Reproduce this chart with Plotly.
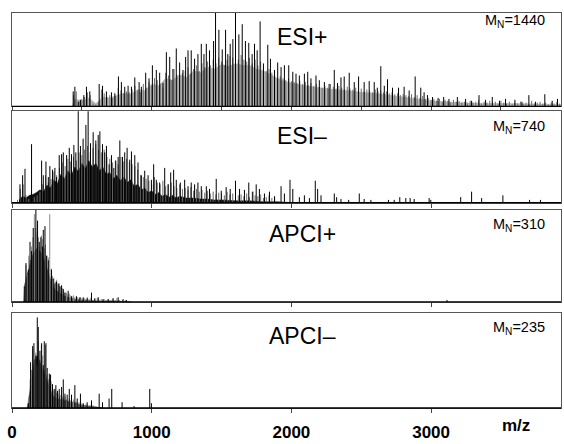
import plotly.graph_objects as go

# ---------------- data (m/z, relative intensity in % of panel height) ----------------
X_MAX = 3930

# ESI+ : major peaks (black)
esip_mz = [438, 450, 474, 490, 514, 533, 557, 624, 648, 676, 712, 736, 762, 783, 807, 831, 855, 879,
           910, 926, 957, 981, 1005, 1033, 1057, 1081, 1105, 1129, 1152, 1176, 1200, 1224, 1243, 1260,
           1283, 1307, 1331, 1355, 1374, 1391, 1414, 1443, 1457, 1481, 1505, 1529, 1545, 1562, 1581,
           1600, 1624, 1648, 1671, 1695, 1719, 1736, 1755, 1776, 1800, 1831, 1850, 1879, 1902, 1926,
           1950, 1981, 2010, 2033, 2057, 2093, 2117, 2140, 2176, 2200, 2236, 2270, 2307, 2330, 2355,
           2378, 2414, 2450, 2481, 2521, 2557, 2593, 2615, 2640, 2665, 2688, 2724, 2767, 2807, 2843,
           2886, 2926, 2950, 2974, 3010, 3050, 3090, 3128, 3188, 3247, 3290, 3343, 3390, 3438, 3490,
           3533, 3600, 3650, 3700, 3747, 3814, 3867, 3905]
esip_int = [16, 21, 5, 7, 12, 21, 16, 24, 22, 16, 15, 14, 32, 26, 21, 22, 21, 31,
            26, 21, 36, 30, 44, 39, 36, 25, 58, 53, 40, 62, 47, 39, 53, 60,
            60, 51, 56, 67, 56, 67, 60, 70, 105, 82, 61, 82, 56, 67, 72,
            105, 77, 88, 70, 68, 56, 67, 60, 91, 46, 66, 51, 39, 47, 42,
            44, 44, 37, 35, 33, 35, 37, 30, 33, 28, 26, 24, 39, 25, 31,
            32, 36, 26, 32, 26, 27, 26, 20, 43, 22, 29, 20, 20, 21, 17,
            32, 20, 15, 12, 10, 9, 10, 8, 10, 8, 6, 12, 7, 10, 6,
            8, 7, 5, 12, 5, 13, 6, 8]
# ESI+ : minor peaks (grey), one every 20 m/z from 440
esip_minor_start, esip_minor_step = 440, 20
esip_minor = [12, 16, 5, 8, 10, 15, 12, 3, 2, 4,
              18, 14, 10, 12, 9, 11, 20, 17, 14, 16,
              15, 18, 22, 17, 15, 24, 20, 26, 22, 30,
              28, 24, 20, 36, 33, 28, 40, 34, 30, 36,
              38, 42, 35, 40, 44, 38, 46, 42, 48, 44,
              50, 46, 52, 48, 44, 50, 54, 52, 56, 50,
              55, 50, 48, 52, 46, 50, 44, 48, 42, 38,
              40, 36, 34, 30, 32, 30, 28, 30, 27, 26,
              25, 27, 24, 26, 23, 25, 22, 24, 21, 20,
              22, 20, 24, 21, 19, 22, 20, 18, 21, 19,
              18, 20, 17, 19, 16, 18, 17, 15, 18, 16,
              17, 15, 16, 14, 15, 13, 14, 12, 13, 12,
              11, 13, 10, 12, 9, 11, 8, 9, 7, 8,
              6, 8, 5, 7, 6, 4, 7, 5, 6, 4,
              5, 3, 6, 4, 5, 7, 3, 5, 4, 6,
              4, 5, 3, 6, 4, 3, 5, 2, 4, 3,
              5, 3, 4, 2, 6, 3, 4, 5, 3, 4,
              2, 4, 3, 5, 3]
# ESI+ : dense unresolved background (grey hatch)
esip_fill_mz = [430, 450, 500, 550, 600, 650, 700, 750, 800, 850, 900, 950, 1000, 1050, 1100, 1150,
                1200, 1250, 1300, 1350, 1400, 1450, 1500, 1550, 1600, 1650, 1700, 1750, 1800, 1850,
                1900, 1950, 2000, 2100, 2200, 2300, 2400, 2500, 2600, 2700, 2800, 2900, 3000, 3200,
                3400, 3600, 3800, 3930]
esip_fill = [0, 8, 6, 9, 3, 10, 9, 12, 14, 13, 18, 17, 24, 22, 30, 28,
             34, 31, 38, 36, 42, 40, 45, 43, 46, 44, 44, 40, 38, 34,
             30, 27, 25, 22, 20, 18, 17, 15, 14, 12, 10, 8, 6, 4,
             3, 3, 2, 2]

# ESI- : major peaks
esim_mz = [57, 76, 93, 140, 212, 224, 243, 260, 271, 290, 307, 319, 338, 355, 367, 391, 410, 426, 443,
           457, 474, 490, 509, 529, 545, 562, 581, 600, 617, 629, 648, 664, 676, 695, 712, 729, 743,
           760, 772, 791, 807, 824, 843, 855, 879, 902, 926, 950, 974, 998, 1014, 1033, 1057, 1093,
           1117, 1136, 1157, 1176, 1205, 1236, 1260, 1283, 1307, 1331, 1355, 1391, 1414, 1462, 1498,
           1533, 1562, 1600, 1629, 1664, 1695, 1724, 1748, 1771, 1807, 1843, 1879, 1926, 1950, 1990,
           2010, 2057, 2093, 2129, 2171, 2188, 2212, 2307, 2324, 2355, 2410, 2486, 2521, 2569, 2695,
           2736, 2776, 2819, 2850, 2879, 2986, 2998, 3212, 3290, 3362, 3514, 3705, 3783]
esim_int = [20, 30, 37, 64, 46, 30, 45, 28, 40, 36, 38, 28, 52, 53, 55, 52, 60, 53, 63,
            55, 105, 62, 70, 85, 105, 65, 77, 68, 74, 78, 64, 55, 62, 42, 52, 38, 46,
            50, 68, 50, 55, 60, 47, 56, 52, 44, 30, 35, 30, 25, 42, 25, 22, 38,
            20, 33, 36, 25, 22, 25, 18, 22, 20, 22, 18, 18, 15, 26, 13,
            17, 15, 24, 15, 14, 22, 12, 20, 15, 10, 12, 7, 18, 10, 25,
            15, 6, 8, 5, 24, 15, 8, 10, 6, 4, 3, 10, 4, 3, 3,
            3, 6, 5, 5, 4, 5, 3, 6, 12, 5, 8, 3, 3]
esim_minor_start, esim_minor_step = 40, 20
esim_minor = [3, 15, 20, 8, 4, 10, 6, 8, 12, 20,
              30, 22, 26, 34, 30, 38, 44, 40, 48, 45,
              50, 46, 55, 52, 58, 62, 55, 60, 64, 58,
              55, 58, 50, 48, 44, 46, 42, 50, 45, 48,
              44, 42, 40, 36, 30, 28, 26, 24, 20, 28,
              22, 20, 24, 18, 20, 22, 18, 16, 20, 15,
              16, 14, 17, 13, 15, 12, 14, 11, 13, 10,
              12, 9, 11, 10, 8, 12, 9, 10, 14, 8,
              9, 7, 10, 6, 12, 8, 7, 9, 5, 6,
              8, 5, 6]
esim_fill_mz = [50, 75, 100, 125, 150, 175, 200, 225, 250, 275, 300, 325, 350, 375, 400, 425, 450, 475,
                500, 525, 550, 575, 600, 625, 650, 675, 700, 725, 750, 775, 800, 825, 850, 875, 900,
                925, 950, 975, 1000, 1025, 1050, 1075, 1100, 1125, 1150, 1175, 1200, 1250, 1300, 1350,
                1400, 1450, 1500, 1600, 1700, 1800, 1900, 2000]
esim_fill = [3, 7, 5, 8, 9, 11, 14, 12, 19, 16, 25, 21, 31, 26, 35, 30, 39, 34,
             43, 37, 46, 39, 43, 35, 39, 31, 33, 26, 30, 24, 28, 22, 25, 18, 20,
             14, 16, 11, 13, 9, 11, 7, 9, 6, 8, 5, 7, 5, 5, 4,
             4, 3, 3, 2, 2, 1, 1, 0]

# APCI+
apcip_mz = [88, 100, 117, 129, 140, 152, 171, 183, 195, 207, 219, 224, 236, 248, 260, 283, 295, 307,
            319, 331, 343, 355, 367, 379, 402, 426, 462, 486, 510, 538, 569, 593, 617, 652, 688, 724,
            760, 795, 819, 3114]
apcip_int = [17, 42, 35, 65, 55, 80, 100, 88, 65, 70, 60, 78, 82, 50, 45, 35, 25, 20,
             22, 20, 17, 18, 14, 10, 12, 6, 6, 5, 5, 4, 10, 4, 5, 3, 3, 4,
             5, 3, 2, 2]
apcip_minor_start, apcip_minor_step = 90, 10
apcip_minor = [20, 40, 30, 50, 45, 60, 70, 95, 80, 75,
               70, 60, 72, 68, 58, 62, 50, 48, 95, 36,
               28, 26, 22, 24, 18, 20, 16, 15, 12, 10,
               10, 8, 9, 7, 6, 7, 5, 6, 5, 4,
               5, 4, 3, 4, 3, 5, 3, 4, 3, 2,
               3, 2, 4, 3, 2, 3, 2, 3, 2, 2,
               3, 2, 2, 3, 2, 2, 4, 2, 2, 1,
               2, 1, 2, 1, 1, 1, 1]
apcip_fill_mz = [85, 90, 100, 120, 140, 160, 180, 200, 220, 240, 260, 280, 300, 320, 340, 360, 380,
                 400, 450, 500, 600, 700, 850]
apcip_fill = [0, 15, 25, 35, 48, 55, 58, 55, 50, 42, 32, 22, 15, 12, 10, 8, 6, 5, 3, 2, 1, 1, 0]

# APCI-
apcim_mz = [117, 133, 148, 157, 171, 181, 188, 200, 212, 224, 231, 243, 252, 267, 276, 290, 302, 314,
            326, 338, 355, 367, 379, 395, 410, 426, 450, 467, 490, 510, 538, 569, 624, 648, 695, 714,
            788, 874, 986, 998]
apcim_int = [5, 48, 65, 68, 55, 95, 85, 60, 68, 45, 70, 68, 42, 36, 35, 25, 20, 24,
             18, 20, 22, 30, 15, 14, 20, 14, 24, 10, 15, 5, 6, 8, 15, 6, 10, 20,
             6, 2, 20, 5]
apcim_minor_start, apcim_minor_step = 120, 10
apcim_minor = [10, 30, 40, 62, 50, 58, 45, 70, 50, 66,
               55, 40, 66, 35, 30, 32, 28, 22, 18, 20,
               16, 15, 12, 14, 12, 10, 12, 9, 8, 10,
               8, 7, 9, 6, 7, 5, 6, 4, 5, 4,
               3, 4, 3, 2, 3, 2, 3, 2, 2]
apcim_fill_mz = [110, 120, 130, 140, 150, 160, 170, 180, 190, 200, 210, 220, 230, 240, 250, 260, 270,
                 280, 290, 300, 320, 340, 360, 380, 400, 420, 440, 460, 480, 500, 550, 600, 650]
apcim_fill = [0, 10, 25, 35, 45, 50, 52, 55, 52, 48, 45, 40, 38, 32, 28, 24, 20,
              16, 14, 12, 10, 9, 9, 8, 7, 6, 6, 5, 4, 3, 2, 1, 0]

panel_titles = ["ESI+", "ESI\u2013", "APCI+", "APCI\u2013"]
mn_values = ["1440", "740", "310", "235"]
tick_labels = ["0", "1000", "2000", "3000"]
tick_values = [0, 1000, 2000, 3000]

# ---------------- figure ----------------
W, H = 564, 444
ML, MR, MT, MB = 12, 2, 13, 29
PH = H - MT - MB


def dom(top_px, bot_px):
    return [(H - MB - bot_px) / PH, (H - MB - top_px) / PH]


panel_px = [(13, 108), (113, 206), (213, 307), (318, 415)]
domains = [dom(a, b) for a, b in panel_px]


def sticks(mz, h):
    xs, ys = [], []
    for m, v in zip(mz, h):
        xs += [m, m, None]
        ys += [0, v, None]
    return xs, ys


def grid(start, step, vals):
    return [start + i * step for i in range(len(vals))]


fig = go.Figure()

panels = [
    dict(peaks=(esip_mz, esip_int), minor=(esip_minor_start, esip_minor_step, esip_minor),
         fill=(esip_fill_mz, esip_fill), fillcolor="#b4b4b4", minorcolor="#6e6e6e"),
    dict(peaks=(esim_mz, esim_int), minor=(esim_minor_start, esim_minor_step, esim_minor),
         fill=(esim_fill_mz, esim_fill), fillcolor="#111111", minorcolor="#6a6a6a"),
    dict(peaks=(apcip_mz, apcip_int), minor=(apcip_minor_start, apcip_minor_step, apcip_minor),
         fill=(apcip_fill_mz, apcip_fill), fillcolor="#111111", minorcolor="#8a8a8a"),
    dict(peaks=(apcim_mz, apcim_int), minor=(apcim_minor_start, apcim_minor_step, apcim_minor),
         fill=(apcim_fill_mz, apcim_fill), fillcolor="#111111", minorcolor="#8a8a8a"),
]

for i, p in enumerate(panels):
    xa = "x" if i == 0 else f"x{i+1}"
    ya = "y" if i == 0 else f"y{i+1}"
    fig.add_trace(go.Scatter(x=p["fill"][0], y=p["fill"][1], mode="lines", fill="tozeroy",
                             fillcolor=p["fillcolor"], line=dict(color=p["fillcolor"], width=0.5),
                             xaxis=xa, yaxis=ya, hoverinfo="skip", showlegend=False))
    s, st, vals = p["minor"]
    gx, gy = sticks(grid(s, st, vals), vals)
    fig.add_trace(go.Scatter(x=gx, y=gy, mode="lines", line=dict(color=p["minorcolor"], width=1),
                             xaxis=xa, yaxis=ya, hoverinfo="skip", showlegend=False))
    bx, by = sticks(*p["peaks"])
    fig.add_trace(go.Scatter(x=bx, y=by, mode="lines", line=dict(color="#000000", width=1),
                             xaxis=xa, yaxis=ya, hoverinfo="skip", showlegend=False))

layout = dict(width=W, height=H, margin=dict(l=ML, r=MR, t=MT, b=MB),
              paper_bgcolor="white", plot_bgcolor="white", showlegend=False,
              font=dict(family="Liberation Sans, Arial, sans-serif", color="black"))

for i in range(4):
    xk = "xaxis" if i == 0 else f"xaxis{i+1}"
    yk = "yaxis" if i == 0 else f"yaxis{i+1}"
    ya = "y" if i == 0 else f"y{i+1}"
    xa = "x" if i == 0 else f"x{i+1}"
    layout[xk] = dict(domain=[0, 1], anchor=ya, range=[0, X_MAX], showgrid=False, zeroline=False,
                      showline=True, mirror=True, linecolor="#555555", linewidth=1,
                      ticks="outside", ticklen=4, tickcolor="#444444", tickwidth=1,
                      tickmode="linear", tick0=0, dtick=500 if i == 0 else 1000,
                      showticklabels=False)
    layout[yk] = dict(domain=domains[i], anchor=xa, range=[0, 100], showgrid=False, zeroline=False,
                      showline=True, mirror=True, linecolor="#555555", linewidth=1,
                      ticks="", showticklabels=False)

layout["xaxis4"].update(showticklabels=True, tickmode="array", tickvals=tick_values,
                        ticktext=tick_labels, ticklabelstandoff=5,
                        tickfont=dict(size=17, weight="bold", family="Liberation Sans, Arial, sans-serif"))

fig.update_layout(**layout)

# baselines
for i in range(4):
    xa = "x" if i == 0 else f"x{i+1}"
    ya = "y" if i == 0 else f"y{i+1}"
    fig.add_shape(type="line", xref=f"{xa} domain", yref=f"{ya} domain", x0=0, x1=1, y0=0, y1=0,
                  line=dict(color="black", width=1.3))

title_py = [37, 138, 238, 342]
mn_py = [21, 129, 229, 334]
for i in range(4):
    fig.add_annotation(text=panel_titles[i], xref="paper", yref="paper",
                       x=(303 - ML) / (W - ML - MR), y=(H - MB - title_py[i]) / PH,
                       xanchor="center", yanchor="middle", showarrow=False,
                       font=dict(size=23, color="black"))
    fig.add_annotation(text=f"M<sub>N</sub>={mn_values[i]}", xref="paper", yref="paper",
                       x=(548 - ML) / (W - ML - MR), y=(H - MB - mn_py[i]) / PH,
                       xanchor="right", yanchor="middle", showarrow=False,
                       font=dict(size=14.5, color="black"))

fig.add_annotation(text="<b>m/z</b>", xref="x4", yref="paper", x=3610, y=(H - MB - 433) / PH,
                   xanchor="center", yanchor="middle", showarrow=False, font=dict(size=17))

fig.write_html("out.html")
